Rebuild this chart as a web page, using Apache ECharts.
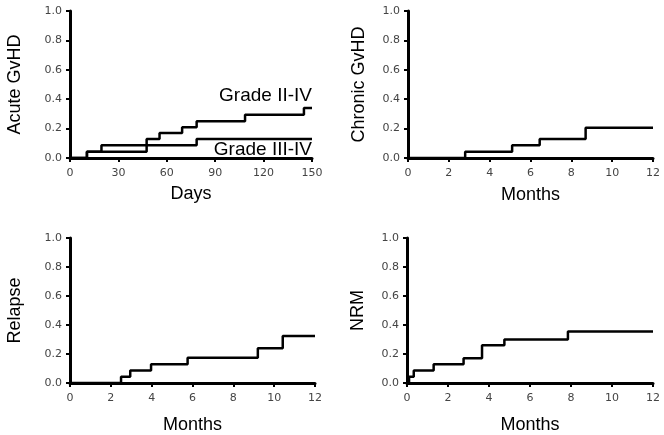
<!DOCTYPE html>
<html><head><meta charset="utf-8">
<script src="https://cdn.jsdelivr.net/npm/echarts@6/dist/echarts.min.js"></script>
<style>html,body{margin:0;padding:0;background:#fff}#c{width:664px;height:435px}</style>
</head><body><div id="c"></div>
<script>
// Acute GvHD (days)
const acuteII_x = [0, 10.5, 19.5, 47.5, 55.5, 69.5, 78.5, 108.5, 145, 150];
const acuteII_y = [0, 0.043, 0.087, 0.13, 0.17, 0.21, 0.25, 0.295, 0.34, 0.34];
const acuteIII_x = [0, 10.5, 47.5, 78.5, 150];
const acuteIII_y = [0, 0.043, 0.087, 0.13, 0.13];
// Chronic GvHD (months)
const chronic_x = [0, 2.8, 5.1, 6.45, 8.7, 12];
const chronic_y = [0, 0.043, 0.087, 0.13, 0.205, 0.205];
// Relapse (months)
const relapse_x = [0, 2.5, 2.95, 3.97, 5.76, 9.2, 10.42, 12];
const relapse_y = [0, 0.043, 0.087, 0.13, 0.175, 0.24, 0.325, 0.325];
// NRM (months)
const nrm_x = [0, 0.1, 0.33, 1.3, 2.76, 3.66, 4.75, 7.85, 12];
const nrm_y = [0, 0.043, 0.087, 0.13, 0.17, 0.26, 0.30, 0.355, 0.355];
// Axis ticks
const yTicks = {min: 0, max: 1, interval: 0.2};
const dayTicks = {min: 0, max: 150, interval: 30};
const monthTicks = {min: 0, max: 12, interval: 2};

const pairs = (xs, ys) => xs.map((x, i) => [x, ys[i]]);

const chart = echarts.init(document.getElementById('c'));
const grids = [
  {left: 70, right: 352, top: 11, height: 147},
  {left: 408, right: 11, top: 11, height: 147},
  {left: 70, right: 349, top: 238, height: 149},
  {left: 407, right: 11, top: 238, height: 149}
];
const tickLabel = {color: '#444', fontFamily: 'DejaVu Sans', fontSize: 11};
const axisLine = {show: true, onZero: false, lineStyle: {color: '#000', width: 3}};
const axisTick = {show: true, length: 4, lineStyle: {color: '#000', width: 2}};
const titleStyle = {color: '#000', fontFamily: 'Liberation Sans', fontSize: 18};
const xTitles = ['Days', 'Months', 'Months', 'Months'];
const xRanges = [dayTicks, monthTicks, monthTicks, monthTicks];
const yTitles = ['Acute GvHD', 'Chronic GvHD', 'Relapse', 'NRM'];
const xGaps = [27, 28, 33, 33];
const yGaps = [46, 40, 46, 40];

const xAxis = grids.map((g, i) => ({
  type: 'value', gridIndex: i, min: xRanges[i].min, max: xRanges[i].max, interval: xRanges[i].interval,
  axisLine, axisTick, splitLine: {show: false},
  axisLabel: Object.assign({margin: 10}, tickLabel),
  name: xTitles[i], nameLocation: 'middle', nameGap: xGaps[i], nameTextStyle: titleStyle
}));
const yAxis = grids.map((g, i) => ({
  type: 'value', gridIndex: i, min: yTicks.min, max: yTicks.max, interval: yTicks.interval,
  axisLine, axisTick, splitLine: {show: false},
  axisLabel: Object.assign({margin: 8, formatter: v => v.toFixed(1)}, tickLabel),
  name: yTitles[i], nameLocation: 'middle', nameGap: yGaps[i], nameTextStyle: titleStyle
}));
const lineSeries = (data, i) => ({
  type: 'line', step: 'end', xAxisIndex: i, yAxisIndex: i, data, symbol: 'none',
  lineStyle: {color: '#000', width: 2.5}, silent: true, animation: false
});
chart.setOption({
  animation: false,
  grid: grids,
  xAxis, yAxis,
  series: [
    lineSeries(pairs(acuteII_x, acuteII_y), 0),
    lineSeries(pairs(acuteIII_x, acuteIII_y), 0),
    lineSeries(pairs(chronic_x, chronic_y), 1),
    lineSeries(pairs(relapse_x, relapse_y), 2),
    lineSeries(pairs(nrm_x, nrm_y), 3)
  ],
  graphic: [
    {type: 'text', right: 352, top: 86, style: {text: 'Grade II-IV', fill: '#000', font: '19px "Liberation Sans"', textAlign: 'right'}},
    {type: 'text', right: 352, top: 140, style: {text: 'Grade III-IV', fill: '#000', font: '19px "Liberation Sans"', textAlign: 'right'}}
  ]
});
</script></body></html>
